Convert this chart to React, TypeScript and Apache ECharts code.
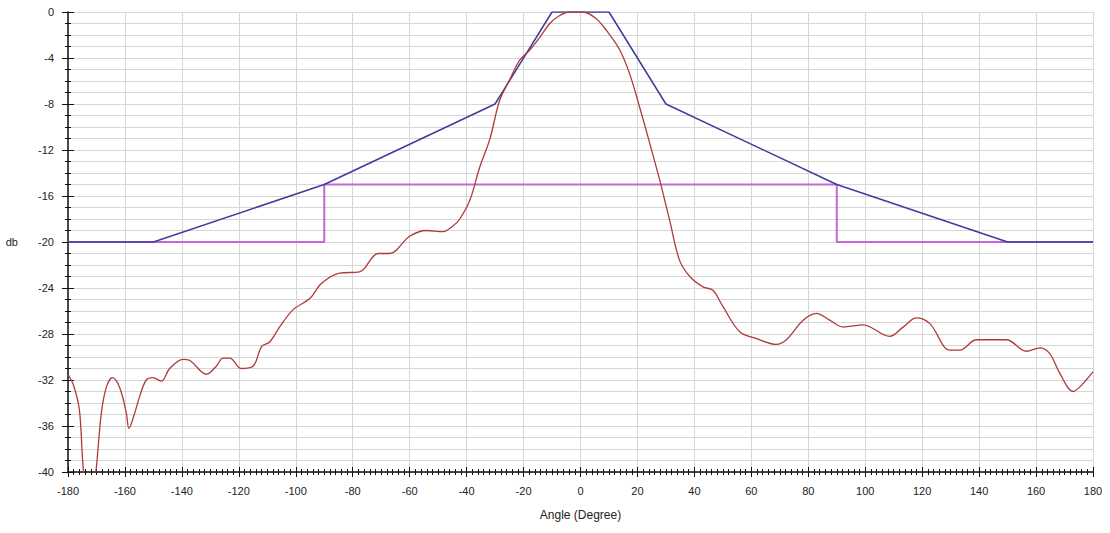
import React, { useEffect, useRef } from "react";
import * as echarts from "echarts";

const redAngles = [
  -180, -178, -176, -174.8, -172.5, -170, -168.3, -166.5, -164.4, -161.8, -159.5, -158.6, -156.6, -154.8,
  -152.5, -150.2, -147.2, -144.3, -139.6, -137.2, -131.4, -127.9, -125.6, -123.2, -119.1, -115, -112,
  -109.2, -105.7, -101, -95, -91, -84.6, -77.6, -71.1, -67, -60, -54.1, -48.3, -44.8, -42.4, -38.9,
  -35.4, -31.9, -28.4, -24.9, -21.4, -17.8, -14.3, -10.8, -7.3, -3.8, 0.9, 5.6, 9.1, 13.8, 17.3, 20.8,
  24.3, 27.8, 31.3, 34.8, 38.4, 43, 46.5, 50, 55.9, 61.8, 68.8, 72.3, 78.2, 82.9, 87.5, 92.2, 99.2,
  108.6, 113.3, 118, 122.7, 129.7, 133.2, 139.1, 144.9, 149.6, 156.6, 161.3, 164.8, 168.3, 173, 175.4, 180,
];
const redDb = [
  -31.5, -32.5, -34.6, -39.2, -45, -39.5, -34.9, -32.6, -31.8, -32.7, -34.9, -36.2, -34.9, -33.4,
  -32, -31.8, -32.1, -31, -30.2, -30.3, -31.5, -30.8, -30.1, -30.1, -31, -30.8, -29.1,
  -28.7, -27.4, -25.9, -24.9, -23.6, -22.7, -22.6, -21, -21, -19.5, -19, -19.1, -18.6, -18, -16.4,
  -13.5, -11.1, -7.7, -5.9, -4.2, -3.3, -2.2, -1.0, -0.3, 0, 0, -0.6, -1.6, -3.3, -5.4, -8.3,
  -11.4, -14.6, -18.1, -21.6, -23, -23.9, -24.2, -25.6, -27.8, -28.4, -28.9, -28.5, -26.8, -26.2, -26.8, -27.4, -27.2,
  -28.2, -27.4, -26.6, -27.1, -29.4, -29.4, -28.5, -28.5, -28.5, -29.5, -29.2, -29.7, -31.4, -33, -32.6, -31.3,
];

const maskAngles = [-180, -150, -90, -30, -10, 10, 30, 90, 150, 180];
const maskDb = [-20, -20, -15, -8, 0, 0, -8, -15, -20, -20];

const limitAngles = [-180, -90, -90, 90, 90, 180];
const limitDb = [-20, -20, -15, -15, -20, -20];

const xMin = -180;
const xMax = 180;
const xStep = 20;
const yMin = -40;
const yMax = 0;
const yStep = 4;

const FONT = "'Liberation Sans', Arial, sans-serif";

function pairs(a: number[], b: number[]) {
  return a.map((v, i) => [v, b[i]]);
}

export default function App() {
  const ref = useRef<HTMLDivElement>(null);
  useEffect(() => {
    if (!ref.current) return;
    const chart = echarts.init(ref.current, null, { renderer: "svg" });
    const labelStyle = { fontFamily: FONT, fontSize: 11, color: "#222" };
    chart.setOption({
      animation: false,
      backgroundColor: "#ffffff",
      grid: { left: 68, top: 12, width: 1025, height: 460, containLabel: false },
      xAxis: [
        {
          type: "value",
          min: xMin,
          max: xMax,
          interval: xStep,
          position: "bottom",
          name: "Angle (Degree)",
          nameLocation: "middle",
          nameGap: 37,
          nameTextStyle: { ...labelStyle, fontSize: 12 },
          axisLine: { show: true, onZero: false, lineStyle: { color: "#111", width: 1.5 } },
          axisTick: { show: true, length: 5, lineStyle: { color: "#111" } },
          minorTick: { show: true, splitNumber: 10, length: 3, lineStyle: { color: "#111" } },
          axisLabel: { ...labelStyle, margin: 13 },
          splitLine: { show: true, lineStyle: { color: "#d6d6d6", width: 1 } },
        },
        {
          type: "value",
          min: xMin,
          max: xMax,
          interval: xStep,
          position: "bottom",
          axisLine: { show: false, onZero: false },
          axisTick: { show: true, inside: true, length: 5, lineStyle: { color: "#111" } },
          minorTick: { show: true, splitNumber: 10, length: 3, lineStyle: { color: "#111" } },
          axisLabel: { show: false },
          splitLine: { show: false },
        },
      ],
      yAxis: [
        {
          type: "value",
          min: yMin,
          max: yMax,
          interval: yStep,
          position: "left",
          name: "db",
          nameLocation: "middle",
          nameRotate: 0,
          nameGap: 50,
          nameTextStyle: labelStyle,
          axisLine: { show: true, onZero: false, lineStyle: { color: "#111", width: 1.5 } },
          axisTick: { show: true, length: 6, lineStyle: { color: "#111" } },
          minorTick: { show: true, splitNumber: 4, length: 3, lineStyle: { color: "#111" } },
          axisLabel: { ...labelStyle, margin: 14 },
          splitLine: { show: true, lineStyle: { color: "#d6d6d6", width: 1 } },
          minorSplitLine: { show: true, lineStyle: { color: "#d6d6d6", width: 1 } },
        },
        {
          type: "value",
          min: yMin,
          max: yMax,
          interval: yStep,
          position: "left",
          axisLine: { show: false, onZero: false },
          axisTick: { show: true, inside: true, length: 6, lineStyle: { color: "#111" } },
          minorTick: { show: true, splitNumber: 4, length: 3, lineStyle: { color: "#111" } },
          axisLabel: { show: false },
          splitLine: { show: false },
        },
      ],
      series: [
        {
          name: "Limit",
          type: "line",
          data: pairs(limitAngles, limitDb),
          showSymbol: false,
          symbol: "none",
          lineStyle: { color: "#c468d8", width: 2 },
          z: 2,
        },
        {
          name: "Mask",
          type: "line",
          data: pairs(maskAngles, maskDb),
          showSymbol: false,
          symbol: "none",
          lineStyle: { color: "#3c3c9c", width: 1.5 },
          z: 3,
        },
        {
          name: "Pattern",
          type: "line",
          data: pairs(redAngles, redDb),
          showSymbol: false,
          symbol: "none",
          smooth: 0.35,
          clip: true,
          lineStyle: { color: "#b03a3a", width: 1.3 },
          z: 4,
        },
      ],
    });
    return () => chart.dispose();
  }, []);
  return (
    <div
      ref={ref}
      style={{ position: "absolute", left: 0, top: 0, width: 1110, height: 533, background: "#fff" }}
    />
  );
}
